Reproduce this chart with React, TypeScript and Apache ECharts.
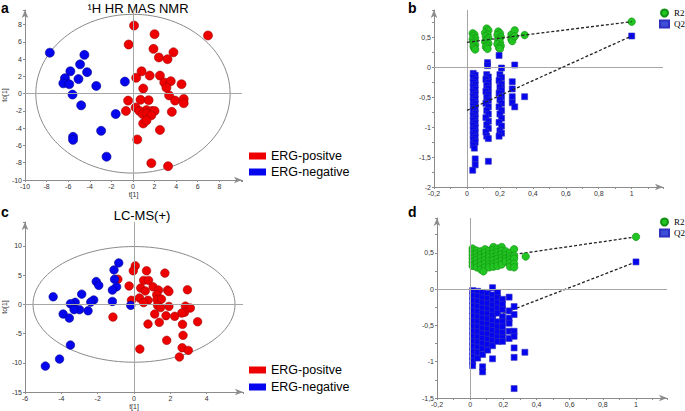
import React, { useEffect, useRef } from 'react';
import * as echarts from 'echarts';

type P = [number, number];

// ---- Panel a: 1H HR MAS NMR scores ----
const nmrPositive: P[] = [
  [0.1, 7.9], [2.0, 6.9], [6.95, 6.75], [-0.4, 5.7], [1.9, 5.2], [3.75, 4.8], [2.4, 4.2], [3.2, 4.0],
  [0.8, 2.6], [1.55, 2.1], [0.3, 1.85], [2.5, 2.1], [2.9, 1.3], [3.5, 1.45], [4.5, 1.1], [0.95, 0.6],
  [3.1, 0.7], [3.35, -0.2], [-0.45, -0.8], [0.7, -0.7], [1.45, -0.75], [3.9, -0.8], [4.7, -0.6], [4.7, -1.1],
  [-0.65, -2.0], [0.25, -1.6], [0.6, -2.0], [1.25, -1.9], [1.75, -2.0], [2.0, -2.0], [3.6, -2.1], [0.9, -2.35],
  [1.3, -2.3], [1.7, -2.5], [0.95, -3.45], [1.25, -3.1], [2.5, -4.2], [0.4, -5.3], [1.7, -8.05], [3.25, -8.4],
];
const nmrNegative: P[] = [
  [-7.7, 4.75], [-4.5, 4.5], [-4.9, 3.4], [-5.8, 2.6], [-4.25, 2.5], [-6.3, 1.8], [-5.05, 1.7], [-6.45, 1.2],
  [-5.9, 1.1], [-3.4, 0.9], [-5.6, -0.1], [-0.75, 1.4], [-4.8, -1.35], [-1.6, -2.35], [-2.95, -4.3],
  [-5.55, -5.0], [-5.55, -5.35], [-2.45, -7.3],
];
const nmrEllipse = { rx: 9.0, ry: 9.2 };

// ---- Panel c: LC-MS(+) scores ----
const lcmsPositive: P[] = [
  [0.07, 6.6], [-0.04, 5.75], [0.69, 5.75], [1.7, 5.35], [-0.89, 4.3], [0.53, 4.1], [0.8, 4.1], [-0.27, 3.15],
  [1.05, 3.0], [0.37, 2.8], [0.62, 2.3], [1.35, 2.45], [1.85, 2.45], [1.92, 2.2], [2.94, 2.5], [1.25, 1.65],
  [0.3, 1.1], [0.77, 0.7], [1.26, 0.8], [1.51, 0.9], [-0.14, 0.7], [0.53, 0.3], [1.3, -0.17], [1.92, -0.35],
  [1.46, -0.55], [2.83, -0.3], [3.1, -0.63], [2.78, -1.37], [2.63, -1.48], [1.14, -1.65], [2.24, -2.05],
  [1.76, -1.94], [-1.16, -2.17], [3.5, -2.97], [1.39, -3.08], [0.77, -3.37], [2.67, -3.42], [2.7, -5.3],
  [1.8, -6.16], [0.32, -7.65], [2.65, -7.42], [2.99, -7.88], [2.5, -9.0],
];
const lcmsNegative: P[] = [
  [-0.84, 7.1], [-1.1, 5.9], [-1.07, 4.3], [-2.08, 3.9], [-1.94, 3.25], [-0.96, 3.0], [-1.19, 2.45],
  [-2.88, 1.75], [-4.45, 1.3], [-2.22, 0.75], [-2.38, 0.4], [-3.24, 0.35], [-3.5, 0.1], [-1.19, 0.5],
  [-3.0, -0.9], [-3.3, -0.9], [-2.53, -1.1], [-3.9, -1.65], [-3.56, -2.35], [-0.18, -0.17], [-3.5, -6.96],
  [-4.1, -9.36], [-4.88, -10.56],
];
const lcmsEllipse = { rx: 5.56, ry: 9.9 };

// ---- Panel b: permutation test (NMR) ----
const bR2: P[] = [
  [0.035, 0.57], [0.045, 0.55], [0.04, 0.52], [0.05, 0.49], [0.035, 0.47], [0.045, 0.44], [0.04, 0.41],
  [0.05, 0.38], [0.04, 0.35], [0.045, 0.32], [0.05, 0.3],
  [0.12, 0.65], [0.13, 0.62], [0.11, 0.58], [0.125, 0.55], [0.115, 0.52], [0.13, 0.49], [0.12, 0.46],
  [0.11, 0.43], [0.13, 0.4], [0.12, 0.37], [0.115, 0.34], [0.125, 0.31],
  [0.19, 0.6], [0.2, 0.57], [0.185, 0.54], [0.205, 0.51], [0.195, 0.48], [0.19, 0.45], [0.2, 0.42],
  [0.185, 0.39], [0.205, 0.36], [0.195, 0.33], [0.2, 0.31],
  [0.27, 0.55], [0.28, 0.5], [0.27, 0.47], [0.275, 0.44], [0.29, 0.62], [0.29, 0.52],
  [0.35, 0.54], [1, 0.765],
];
const bQ2: P[] = [
  [0.038, -0.1], [0.05, -0.13], [0.038, -0.17], [0.05, -0.21], [0.038, -0.25], [0.05, -0.29], [0.038, -0.33],
  [0.05, -0.37], [0.038, -0.41], [0.05, -0.45], [0.038, -0.49], [0.05, -0.53], [0.038, -0.57], [0.05, -0.61],
  [0.038, -0.65], [0.05, -0.69], [0.038, -0.73], [0.05, -0.77], [0.038, -0.81], [0.05, -0.85], [0.038, -0.89],
  [0.05, -0.93], [0.038, -0.97], [0.05, -1.01], [0.038, -1.05], [0.05, -1.09], [0.038, -1.13], [0.05, -1.17],
  [0.038, -1.21], [0.05, -1.25], [0.038, -1.3], [0.045, -1.35], [0.05, -1.53], [0.05, -1.63], [0.035, -1.72],
  [0.125, 0.08], [0.125, 0.03], [0.12, -0.12], [0.13, -0.16], [0.115, -0.2], [0.13, -0.25], [0.12, -0.3],
  [0.13, -0.35], [0.115, -0.4], [0.13, -0.45], [0.12, -0.5], [0.13, -0.55], [0.115, -0.6], [0.13, -0.66],
  [0.12, -0.72], [0.13, -0.78], [0.115, -0.84], [0.13, -0.9], [0.12, -0.96], [0.13, -1.02], [0.115, -1.08],
  [0.12, -1.15], [0.13, -1.19], [0.13, -1.57],
  [0.195, 0.2], [0.21, -0.01], [0.2, -0.12], [0.21, -0.17], [0.195, -0.22], [0.21, -0.28], [0.2, -0.33],
  [0.21, -0.38], [0.195, -0.43], [0.21, -0.49], [0.2, -0.54], [0.21, -0.6], [0.195, -0.66], [0.21, -0.72],
  [0.2, -0.78], [0.21, -0.85], [0.195, -0.92], [0.21, -0.98], [0.2, -1.06], [0.21, -1.1], [0.195, -1.15],
  [0.275, -0.24], [0.275, -0.36], [0.275, -0.49], [0.275, -0.59], [0.29, -0.66], [0.29, 0.04],
  [0.35, -0.49], [1, 0.525],
];
const bR2Line: P[] = [[0, 0.42], [1, 0.765]];
const bQ2Line: P[] = [[0, -0.72], [1, 0.525]];

// ---- Panel d: permutation test (LC-MS) ----
const dR2: P[] = [
  [0.015, 0.56], [0.015, 0.52], [0.015, 0.47], [0.015, 0.42], [0.015, 0.37], [0.015, 0.32],
  [0.04, 0.53], [0.04, 0.49], [0.04, 0.44], [0.04, 0.4], [0.04, 0.35], [0.04, 0.3],
  [0.065, 0.52], [0.065, 0.47], [0.065, 0.43], [0.065, 0.38], [0.065, 0.33], [0.065, 0.27],
  [0.09, 0.55], [0.09, 0.5], [0.09, 0.45], [0.09, 0.4], [0.09, 0.35], [0.09, 0.3], [0.08, 0.245],
  [0.115, 0.53], [0.115, 0.48], [0.115, 0.44], [0.115, 0.39], [0.115, 0.34], [0.115, 0.3],
  [0.14, 0.58], [0.14, 0.54], [0.14, 0.49], [0.14, 0.44], [0.14, 0.4], [0.14, 0.35], [0.14, 0.31],
  [0.165, 0.56], [0.165, 0.51], [0.165, 0.46], [0.165, 0.42], [0.165, 0.37], [0.165, 0.32],
  [0.19, 0.58], [0.19, 0.53], [0.19, 0.48], [0.19, 0.43], [0.19, 0.39], [0.19, 0.34],
  [0.215, 0.52], [0.215, 0.47], [0.215, 0.42], [0.215, 0.38],
  [0.24, 0.5], [0.24, 0.45], [0.24, 0.41], [0.24, 0.36], [0.24, 0.31],
  [0.265, 0.55], [0.265, 0.46], [0.265, 0.42], [0.265, 0.35], [0.265, 0.3],
  [0.335, 0.45], [1, 0.72],
];
const dQ2: P[] = [
  [0.015, -0.02], [0.015, -0.09], [0.015, -0.16], [0.015, -0.23], [0.015, -0.3], [0.015, -0.37], [0.015, -0.44],
  [0.015, -0.51], [0.015, -0.58], [0.015, -0.65], [0.015, -0.72], [0.015, -0.79], [0.015, -0.86], [0.015, -0.93],
  [0.015, -0.99], [0.015, -1.055],
  [0.045, -0.03], [0.045, -0.1], [0.045, -0.17], [0.045, -0.24], [0.045, -0.31], [0.045, -0.38], [0.045, -0.45],
  [0.045, -0.52], [0.045, -0.59], [0.045, -0.66], [0.045, -0.73], [0.045, -0.8], [0.045, -0.87], [0.045, -0.95],
  [0.075, -0.05], [0.075, -0.12], [0.075, -0.19], [0.075, -0.26], [0.075, -0.33], [0.075, -0.4], [0.075, -0.47],
  [0.075, -0.54], [0.075, -0.61], [0.075, -0.68], [0.075, -0.75], [0.075, -0.82], [0.075, -0.9], [0.075, -1.07],
  [0.075, -1.14],
  [0.105, -0.06], [0.105, -0.13], [0.105, -0.2], [0.105, -0.27], [0.105, -0.34], [0.105, -0.41], [0.105, -0.48],
  [0.105, -0.55], [0.105, -0.62], [0.105, -0.69], [0.105, -0.76], [0.105, -0.84],
  [0.135, 0.02], [0.135, -0.08], [0.135, -0.15], [0.135, -0.22], [0.135, -0.29], [0.135, -0.36], [0.135, -0.43],
  [0.135, -0.5], [0.135, -0.57], [0.135, -0.64], [0.135, -0.71], [0.135, -0.78], [0.135, -0.96],
  [0.165, -0.05], [0.165, -0.12], [0.165, -0.19], [0.165, -0.26], [0.165, -0.33], [0.165, -0.45], [0.165, -0.52],
  [0.165, -0.59], [0.165, -0.66], [0.165, -0.72],
  [0.195, -0.14], [0.195, -0.21], [0.195, -0.28], [0.195, -0.38], [0.195, -0.45], [0.195, -0.52], [0.195, -0.6],
  [0.195, -0.67], [0.195, -0.72],
  [0.235, -0.11], [0.235, -0.3], [0.235, -0.4], [0.235, -0.47], [0.235, -0.58], [0.235, -0.68],
  [0.265, -0.24], [0.265, -0.35], [0.265, -0.58], [0.265, -0.65], [0.265, -0.81], [0.265, -0.94], [0.265, -1.37],
  [0.33, -0.87], [1, 0.375],
];
const dR2Line: P[] = [[0, 0.39], [1, 0.72]];
const dQ2Line: P[] = [[0, -0.51], [1, 0.375]];

const panelLetters = ['a', 'b', 'c', 'd'];
const scoreTitles = ['\u00B9H HR MAS NMR', 'LC-MS(+)'];
const groupNames = ['ERG-positve', 'ERG-negative'];
const permNames = ['R2', 'Q2'];

const SANS = 'Liberation Sans, Arial, sans-serif';
const SERIF = 'Liberation Serif, Times New Roman, serif';
const RED = '#ee0000';
const BLUE = '#0606ee';
const GREEN = '#22c422';
const AXIS = '#8c8c8c';

const fmt = (limit: number, comma: boolean) => (v: number) => {
  if (v > limit + 1e-6) return '';
  const s = String(+v.toFixed(2));
  return comma ? s.replace('.', ',') : s;
};

const axis = (gridIndex: number, min: number, max: number, interval: number, limit: number, comma: boolean, extra: any = {}) => ({
  type: 'value',
  gridIndex,
  min,
  max,
  interval,
  splitLine: { show: false },
  axisLine: { show: true, onZero: false, symbol: ['none', 'arrow'], symbolSize: [5, 8], lineStyle: { color: AXIS, width: 1 } },
  axisTick: { show: true, length: 2, lineStyle: { color: AXIS } },
  axisLabel: { fontSize: 7, color: '#333', fontFamily: SANS, margin: 3, formatter: fmt(limit, comma) },
  ...extra,
});

const zeroLines = (i: number) => ({
  type: 'scatter',
  xAxisIndex: i,
  yAxisIndex: i,
  data: [],
  silent: true,
  z: 1,
  markLine: {
    silent: true,
    symbol: ['none', 'none'],
    label: { show: false },
    lineStyle: { color: '#a6a6a6', width: 1, type: 'solid' },
    emphasis: { disabled: true },
    data: [{ yAxis: 0 }, { xAxis: 0 }],
  },
});

const ellipse = (i: number, e: { rx: number; ry: number }) => ({
  type: 'custom',
  xAxisIndex: i,
  yAxisIndex: i,
  silent: true,
  z: 1,
  data: [[0, 0]],
  renderItem: (_params: any, api: any) => {
    const c = api.coord([api.value(0), api.value(1)]);
    const px = api.coord([e.rx, 0]);
    const py = api.coord([0, e.ry]);
    return {
      type: 'ellipse',
      shape: { cx: c[0], cy: c[1], rx: px[0] - c[0], ry: c[1] - py[1] },
      style: { fill: 'none', stroke: '#8a8a8a', lineWidth: 1 },
    };
  },
});

const scat = (name: string, i: number, data: P[], color: string, border: string, size: number, symbol = 'circle', z = 3) => ({
  name,
  type: 'scatter',
  xAxisIndex: i,
  yAxisIndex: i,
  data,
  symbol,
  symbolSize: size,
  z,
  itemStyle: { color, borderColor: border, borderWidth: 0.6, opacity: 1 },
  emphasis: { disabled: true },
});

const dashLine = (i: number, data: P[], z: number) => ({
  type: 'line',
  xAxisIndex: i,
  yAxisIndex: i,
  data,
  symbol: 'none',
  silent: true,
  z,
  lineStyle: { color: '#222', width: 1.3, type: [3, 2] },
  emphasis: { disabled: true },
});

const groupLegend = (top: number, gap: number) => ({
  data: groupNames,
  orient: 'vertical',
  left: 249,
  top,
  padding: 0,
  itemGap: gap,
  itemWidth: 17,
  itemHeight: 7,
  icon: 'rect',
  selectedMode: false,
  itemStyle: { borderWidth: 0 },
  textStyle: { fontSize: 12.5, fontFamily: SANS, color: '#000', lineHeight: 14 },
});

const permLegend = (top: number) => ({
  data: [{ name: permNames[0], icon: 'circle' }, { name: permNames[1], icon: 'rect', itemStyle: { color: '#3d4fd8' } }],
  orient: 'vertical',
  left: 659,
  top,
  padding: 0,
  itemGap: 1,
  itemWidth: 9,
  itemHeight: 7,
  selectedMode: false,
  textStyle: { fontSize: 9, fontFamily: SERIF, color: '#000', lineHeight: 10 },
});

const letter = (t: string, x: number, y: number) => ({
  type: 'text',
  x,
  y,
  silent: true,
  style: { text: t, fontSize: 14, fontWeight: 'bold', fontFamily: SANS, fill: '#000', verticalAlign: 'middle' },
});
const title = (t: string, x: number, y: number) => ({
  type: 'text',
  x,
  y,
  silent: true,
  style: { text: t, fontSize: 13, fontFamily: SANS, fill: '#000', align: 'center', verticalAlign: 'middle' },
});

const option: any = {
  animation: false,
  backgroundColor: '#fff',
  grid: [
    { left: 19, top: 10, width: 223, height: 170 },
    { left: 434, top: 10, width: 229, height: 177 },
    { left: 18, top: 222, width: 225, height: 170 },
    { left: 437, top: 218, width: 230, height: 180 },
  ],
  xAxis: [
    axis(0, -10, 10.1, 2, 8.5, false, { name: 't[1]', nameLocation: 'middle', nameGap: 9, nameTextStyle: { fontSize: 7, fontFamily: SANS, color: '#333' } }),
    axis(1, -0.2, 1.19, 0.2, 1.05, true, { minorTick: { show: true, splitNumber: 2, length: 2, lineStyle: { color: AXIS } } }),
    axis(2, -6, 6, 2, 4.5, false, { name: 't[1]', nameLocation: 'middle', nameGap: 11, nameTextStyle: { fontSize: 7, fontFamily: SANS, color: '#333' } }),
    axis(3, -0.2, 1.187, 0.2, 1.05, true, { minorTick: { show: true, splitNumber: 2, length: 2, lineStyle: { color: AXIS } } }),
  ],
  yAxis: [
    axis(0, -10, 9.7, 2, 8.5, false, { name: 'to[1]', nameLocation: 'middle', nameGap: 11, nameTextStyle: { fontSize: 7, fontFamily: SANS, color: '#333' } }),
    axis(1, -2, 0.96, 0.5, 0.6, true, { minorTick: { show: true, splitNumber: 2, length: 2, lineStyle: { color: AXIS } } }),
    axis(2, -15, 14.1, 5, 10.5, false, { name: 'to[1]', nameLocation: 'middle', nameGap: 12, nameTextStyle: { fontSize: 7, fontFamily: SANS, color: '#333' } }),
    axis(3, -1.5, 0.98, 0.5, 0.6, true, { minorTick: { show: true, splitNumber: 2, length: 2, lineStyle: { color: AXIS } } }),
  ],
  legend: [groupLegend(149, 2), groupLegend(363, 3), permLegend(8), permLegend(217)],
  graphic: [
    letter(panelLetters[0], 1, 8),
    letter(panelLetters[1], 408, 8),
    letter(panelLetters[2], 1, 212),
    letter(panelLetters[3], 408, 212),
    title(scoreTitles[0], 138, 8),
    title(scoreTitles[1], 142, 215),
  ],
  series: [
    // panel a
    ellipse(0, nmrEllipse),
    zeroLines(0),
    scat(groupNames[0], 0, nmrPositive, RED, '#a00000', 9),
    scat(groupNames[1], 0, nmrNegative, BLUE, '#00008a', 9),
    // panel c
    ellipse(2, lcmsEllipse),
    zeroLines(2),
    scat(groupNames[0], 2, lcmsPositive, RED, '#a00000', 8.5),
    scat(groupNames[1], 2, lcmsNegative, BLUE, '#00008a', 8.5),
    // panel b
    zeroLines(1),
    scat(permNames[0], 1, bR2, GREEN, '#139013', 7.5),
    scat(permNames[1], 1, bQ2, BLUE, '#3030c0', 6, 'rect'),
    dashLine(1, bR2Line, 5),
    dashLine(1, bQ2Line, 5),
    // panel d
    zeroLines(3),
    dashLine(3, dR2Line, 2),
    dashLine(3, dQ2Line, 2),
    scat(permNames[0], 3, dR2, GREEN, '#139013', 7.5),
    scat(permNames[1], 3, dQ2, BLUE, '#3030c0', 6, 'rect'),
  ],
};

export default function App() {
  const ref = useRef<HTMLDivElement>(null);
  useEffect(() => {
    const chart = echarts.init(ref.current!, null, { renderer: 'svg' });
    chart.setOption(option);
    return () => chart.dispose();
  }, []);
  return (
    <div
      ref={ref}
      style={{ position: 'fixed', left: 0, top: 0, width: 685, height: 411, background: '#fff' }}
    />
  );
}
